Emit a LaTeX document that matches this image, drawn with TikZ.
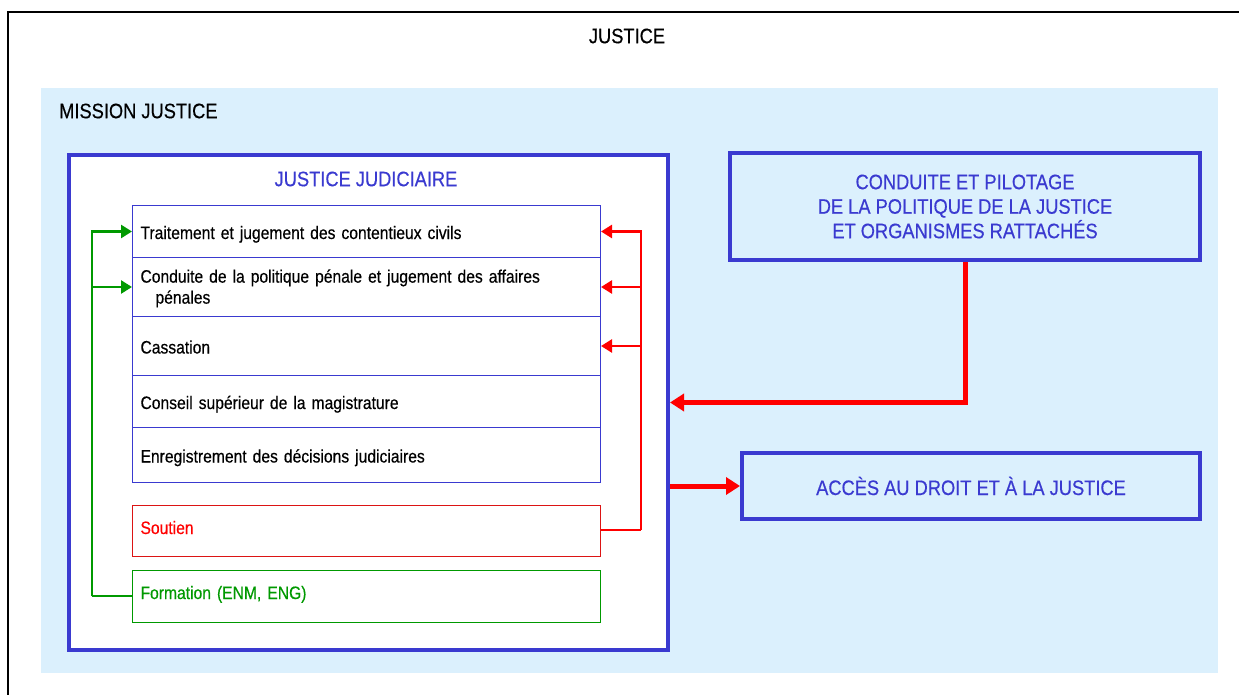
\documentclass[tikz,border=0pt]{standalone}
\usepackage{fontspec}
\setmainfont{Liberation Sans}[FakeStretch=0.87, FakeBold=0.4]
\usetikzlibrary{arrows.meta}
\definecolor{skyback}{RGB}{219,240,253}
\definecolor{deepblue}{RGB}{58,58,208}
\definecolor{redline}{RGB}{255,0,0}
\definecolor{redbox}{RGB}{220,20,20}
\definecolor{greenline}{RGB}{0,153,0}
\begin{document}
\begin{tikzpicture}[x=1pt, y=-1pt]
      \tikzstyle{every node}=[inner sep=0pt, font=\fontsize{21}{24.5}\selectfont]
      \tikzstyle{item}=[draw=deepblue, line width=1pt, fill=white, anchor=north west,
        text width=452pt, inner xsep=8pt, align=left, font=\fontsize{18}{21}\selectfont]
      \tikzstyle{oneline}=[text height=16pt, text depth=1pt]
      \tikzstyle{bigbox}=[draw=deepblue, line width=4pt, fill=skyback, align=center,
        text=deepblue, minimum width=470pt]
      \tikzstyle{thin}=[line width=2.5pt, -{Triangle[length=11pt, width=13pt]}]
      \tikzstyle{thick}=[line width=5pt, -{Triangle[length=14pt, width=17pt]}]

      \useasboundingbox (0,0) rectangle (1239,695);
      \draw [line width=1.5pt] (8,12) rectangle (1260,720);
      \path (627,36) node (just) {JUSTICE};

      \fill [skyback] (41,88) rectangle (1218,673);
      \path (59,111) node [anchor=west] (mis) {MISSION JUSTICE};

      % justice judiciaire
      \path (67,153) node [draw=deepblue, line width=4pt, fill=white, anchor=north west,
        minimum width=599pt, minimum height=495pt] (jj) {};
      \path (366,179) node [text=deepblue] (jjt) {JUSTICE JUDICIAIRE};

      \foreach \i/\y/\h/\t in {
          1/205/52/{Traitement et jugement des contentieux civils},
          3/316/59/{Cassation},
          4/375/52/{Conseil supérieur de la magistrature},
          5/427/55/{Enregistrement des décisions judiciaires}}
      {
        \path (132,\y) node [item, oneline, minimum height=\h pt] (r\i) {\t};
      }
      \path (132,257) node [item, minimum height=59pt, yshift=0pt] (r2)
        {\rule{0pt}{16pt}Conduite de la politique pénale et jugement des affaires\\\hspace*{15pt}pénales};

      \path (132,505) node [item, draw=redbox, text=redline, minimum height=51pt,
        text depth=7pt] (sou) {Soutien};
      \path (132,570) node [item, draw=greenline, text=greenline, minimum height=52pt,
        text depth=8pt] (for) {Formation (ENM, ENG)};

      % boxes on the right
      \path (965,206.5) node [bigbox, minimum height=107pt] (cp)
        {CONDUITE ET PILOTAGE\\DE LA POLITIQUE DE LA JUSTICE\\ET ORGANISMES RATTACHÉS};
      \path (971,486) node [bigbox, minimum width=458pt, minimum height=66pt] (acc)
        {ACCÈS AU DROIT ET À LA JUSTICE};

      % formation
      \coordinate (g) at (92,596);
      \draw [greenline, line width=2.5pt] (for.west |- g) -- (g);
      \draw [greenline, thin]
        (g) |- (r1.west);
      \draw [greenline, thin]
        (g) |- (r2.west);

      % soutien
      \coordinate (s) at (641,530);
      \draw [redline, line width=2.5pt] (sou.east |- s) -- (s);
      \draw [redline, thin]
        (s) |- (r1.east);
      \draw [redline, thin]
        (s) |- (r2.east);
      \draw [redline, thin]
        (s) |- (r3.east);

      \draw [redline, thick] (cp.south) |- (jj.east);
      \draw [redline, thick] (jj.east |- acc.west) -- (acc.west);
    \end{tikzpicture}
\end{document}
